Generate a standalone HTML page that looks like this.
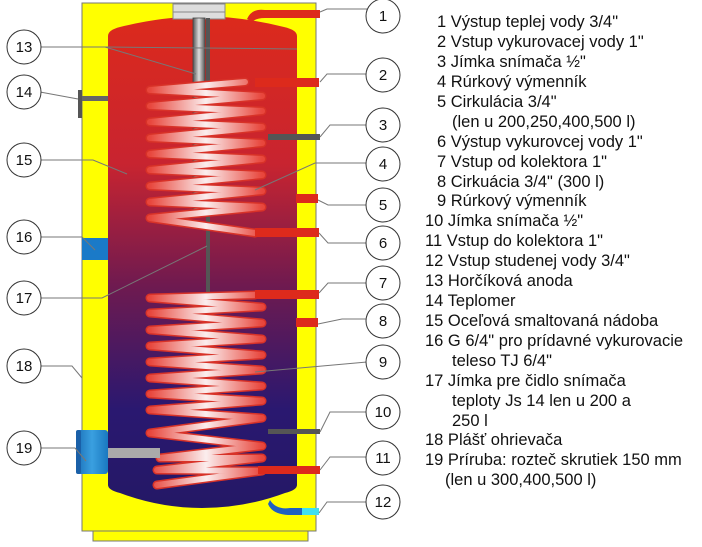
<!DOCTYPE html>
<html><head><meta charset="utf-8"><style>
body{margin:0;background:#fff;width:702px;height:542px;overflow:hidden}
svg text{font-family:"Liberation Sans",sans-serif}
</style></head><body>
<svg width="702" height="542" viewBox="0 0 702 542">
<defs>
<linearGradient id="tank" x1="0" y1="0" x2="0" y2="1">
<stop offset="0" stop-color="#dc2a1c"/><stop offset="0.3" stop-color="#c82430"/>
<stop offset="0.55" stop-color="#6e1a50"/><stop offset="0.8" stop-color="#2a1870"/><stop offset="1" stop-color="#241866"/>
</linearGradient>
<linearGradient id="coil" x1="0" y1="0" x2="1" y2="0">
<stop offset="0" stop-color="#e8463c"/><stop offset="0.5" stop-color="#fbeeee"/><stop offset="1" stop-color="#e8463c"/>
</linearGradient>
<linearGradient id="rod" x1="0" y1="0" x2="1" y2="0">
<stop offset="0" stop-color="#555"/><stop offset="0.5" stop-color="#ddd"/><stop offset="1" stop-color="#555"/>
</linearGradient>
<linearGradient id="flange" x1="0" y1="0" x2="1" y2="0">
<stop offset="0" stop-color="#1a6fb8"/><stop offset="0.5" stop-color="#3aa0e0"/><stop offset="1" stop-color="#1a78c0"/>
</linearGradient>
</defs>
<rect x="93" y="531" width="215" height="10" fill="#ffff00" stroke="#777" stroke-width="1"/>
<rect x="82" y="3" width="234" height="528" fill="#ffff00" stroke="#777" stroke-width="1"/>
<path d="M108 36 Q108 30 120 27 Q160 17 202 16 Q245 17 284 27 Q297 30 297 36 L297 485 Q297 490 285 493 Q245 508 202 508 Q160 508 120 493 Q108 490 108 485 Z" fill="url(#tank)"/>
<rect x="173" y="4" width="52" height="15" fill="#ddd" stroke="#888"/>
<line x1="173" y1="12" x2="225" y2="12" stroke="#888"/>
<path d="M247 19 Q252 8 265 10 L320 10 L320 18 L265 18 Q256 18 252 22 Z" fill="#dd2a1c"/>
<rect x="193" y="18" width="12" height="196" fill="url(#rod)" stroke="#444" stroke-width="0.8"/>
<rect x="206" y="18" width="4" height="342" fill="#555"/>
<g fill="none" stroke-linecap="round" stroke-linejoin="round">
<g stroke="#d83228" stroke-width="9">
<path d="M245 82 L150 90 L262 96 L150 106 L262 111 L150 122 L262 127 L150 138 L262 143 L150 154 L262 159 L150 170 L262 175 L150 186 L262 191 L150 202 L262 207 L150 218 L255 233"/>
</g>
<g stroke="url(#coil)" stroke-width="6">
<path d="M245 82 L150 90 L262 96 L150 106 L262 111 L150 122 L262 127 L150 138 L262 143 L150 154 L262 159 L150 170 L262 175 L150 186 L262 191 L150 202 L262 207 L150 218 L255 233"/>
</g>
<g stroke="#d83228" stroke-width="9">
<path d="M255 295 L150 298 L262 307 L150 313 L262 323 L150 330 L262 339 L150 346 L262 355 L150 362 L262 370 L150 378 L262 386 L150 394 L262 401 L150 410 L262 418 L150 433 L262 446 L160 458 L262 458 L157 470 L262 471 L157 485"/>
</g>
<g stroke="url(#coil)" stroke-width="6">
<path d="M255 295 L150 298 L262 307 L150 313 L262 323 L150 330 L262 339 L150 346 L262 355 L150 362 L262 370 L150 378 L262 386 L150 394 L262 401 L150 410 L262 418 L150 433 L262 446 L160 458 L262 458 L157 470 L262 471 L157 485"/>
</g>
</g>
<rect x="255" y="78" width="64" height="9" fill="#dd2a1c"/>
<rect x="268" y="134" width="52" height="6" fill="#555"/>
<rect x="296" y="194" width="22" height="9" fill="#dd2a1c"/>
<rect x="255" y="228" width="64" height="9" fill="#dd2a1c"/>
<rect x="255" y="290" width="64" height="9" fill="#dd2a1c"/>
<rect x="296" y="318" width="22" height="9" fill="#dd2a1c"/>
<rect x="268" y="429" width="52" height="5" fill="#555"/>
<rect x="258" y="466" width="62" height="8" fill="#dd2a1c"/>
<path d="M270 500 Q276 510 290 508 L318 508 L318 515 L288 515 Q272 514 268 504 Z" fill="#2060c0"/>
<rect x="302" y="508" width="17" height="7" fill="#40e0f0"/>
<rect x="80" y="96" width="28" height="5" fill="#666"/>
<rect x="78" y="90" width="4" height="28" fill="#555"/>
<rect x="82" y="238" width="26" height="22" fill="#1a7ac8"/>
<rect x="76" y="430" width="32" height="44" rx="3" fill="url(#flange)"/>
<rect x="76" y="430" width="5" height="44" rx="2" fill="#1a60a8"/>
<rect x="108" y="448" width="52" height="10" fill="#aaa"/>
<g stroke="#777" stroke-width="1" fill="none">
<polyline points="320,12 327,9 367,9"/>
<polyline points="320,82 327,74 367,74"/>
<polyline points="320,137 330,125 367,125"/>
<polyline points="255,190 315,163 367,163"/>
<polyline points="318,200 328,205 367,205"/>
<polyline points="319,233 328,243 367,243"/>
<polyline points="319,293 328,283 367,283"/>
<polyline points="318,324 342,319 367,319"/>
<polyline points="255,372 367,362"/>
<polyline points="320,432 330,412 367,412"/>
<polyline points="320,470 330,457 367,457"/>
<polyline points="319,513 327,502 367,502"/>
<polyline points="40,47 108,47 297,49"/>
<polyline points="40,47 105,47 196,74"/>
<polyline points="40,92 78,99"/>
<polyline points="40,160 93,160 127,174"/>
<polyline points="40,237 82,237 95,250"/>
<polyline points="40,298 102,298 207,246"/>
<polyline points="40,366 72,366 82,378"/>
<polyline points="40,448 75,448 86,461"/>
</g>
<g fill="#fff" stroke="#333" stroke-width="1">
<circle cx="383" cy="16" r="17"/><circle cx="383" cy="75" r="17"/><circle cx="383" cy="125" r="17"/>
<circle cx="383" cy="164" r="17"/><circle cx="383" cy="205" r="17"/><circle cx="383" cy="243" r="17"/>
<circle cx="383" cy="283" r="17"/><circle cx="383" cy="321" r="17"/><circle cx="383" cy="362" r="17"/>
<circle cx="383" cy="412" r="17"/><circle cx="383" cy="458" r="17"/><circle cx="383" cy="502" r="17"/>
<circle cx="24" cy="47" r="17"/><circle cx="24" cy="92" r="17"/><circle cx="24" cy="160" r="17"/>
<circle cx="24" cy="237" r="17"/><circle cx="24" cy="298" r="17"/><circle cx="24" cy="366" r="17"/>
<circle cx="24" cy="448" r="17"/>
</g>
<g font-size="15" text-anchor="middle" fill="#111">
<text x="383" y="21">1</text><text x="383" y="80">2</text><text x="383" y="130">3</text>
<text x="383" y="169">4</text><text x="383" y="210">5</text><text x="383" y="248">6</text>
<text x="383" y="288">7</text><text x="383" y="326">8</text><text x="383" y="367">9</text>
<text x="383" y="417">10</text><text x="383" y="463">11</text><text x="383" y="507">12</text>
<text x="24" y="52">13</text><text x="24" y="97">14</text><text x="24" y="165">15</text>
<text x="24" y="242">16</text><text x="24" y="303">17</text><text x="24" y="371">18</text>
<text x="24" y="453">19</text>
</g>
<g font-size="16.5" fill="#111">
<text x="437" y="27">1 Výstup teplej vody 3/4"</text>
<text x="437" y="47">2 Vstup vykurovacej vody 1"</text>
<text x="437" y="67">3 Jímka snímača ½"</text>
<text x="437" y="87">4 Rúrkový výmenník</text>
<text x="437" y="107">5 Cirkulácia 3/4"</text>
<text x="452" y="127">(len u 200,250,400,500 l)</text>
<text x="437" y="147">6  Výstup vykurovcej vody 1"</text>
<text x="437" y="167">7  Vstup od kolektora 1"</text>
<text x="437" y="187">8 Cirkuácia 3/4" (300 l)</text>
<text x="437" y="206">9 Rúrkový výmenník</text>
<text x="425" y="226">10 Jímka snímača ½"</text>
<text x="425" y="246">11 Vstup do kolektora 1"</text>
<text x="425" y="266">12 Vstup studenej vody 3/4"</text>
<text x="425" y="286">13 Horčíková anoda</text>
<text x="425" y="306">14 Teplomer</text>
<text x="425" y="326">15 Oceľová smaltovaná nádoba</text>
<text x="425" y="346">16 G 6/4" pro prídavné vykurovacie</text>
<text x="452" y="366">teleso TJ 6/4"</text>
<text x="425" y="386">17 Jímka pre čidlo snímača</text>
<text x="452" y="406">teploty Js 14 len u 200 a</text>
<text x="452" y="426">250 l</text>
<text x="425" y="445">18 Plášť ohrievača</text>
<text x="425" y="465">19 Príruba: rozteč skrutiek 150 mm</text>
<text x="445" y="485">(len u 300,400,500 l)</text>
</g>
</svg>
</body></html>
